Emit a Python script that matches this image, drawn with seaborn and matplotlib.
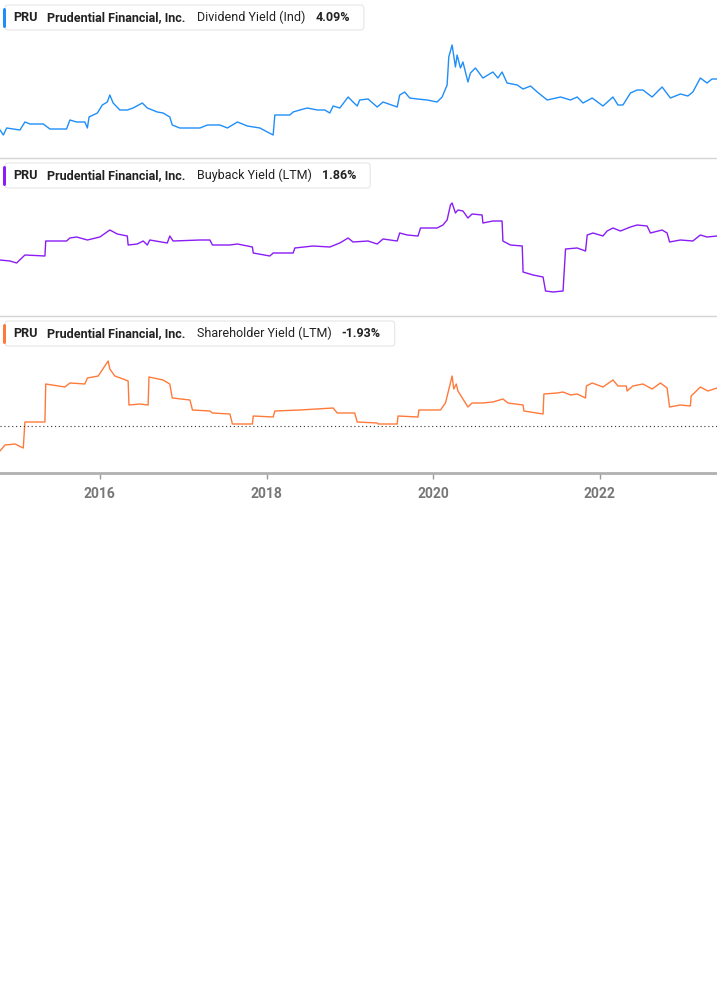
import pandas as pd
import numpy as np
import matplotlib
matplotlib.use("Agg")
import matplotlib.pyplot as plt
from matplotlib.patches import FancyBboxPatch
import seaborn as sns

# values (decimal year, level in %), no y axis shown
div_years = [2014.80, 2014.84, 2014.88, 2015.04, 2015.10, 2015.16, 2015.32, 2015.40, 2015.60, 2015.64,
             2015.72, 2015.82, 2015.85, 2015.87, 2015.97, 2016.03, 2016.09, 2016.12, 2016.16, 2016.24,
             2016.33, 2016.40, 2016.51, 2016.57, 2016.69, 2016.76, 2016.84, 2016.87, 2016.96, 2017.20,
             2017.29, 2017.44, 2017.53, 2017.65, 2017.77, 2017.92, 2018.01, 2018.08, 2018.10, 2018.16,
             2018.28, 2018.32, 2018.40, 2018.49, 2018.61, 2018.70, 2018.76, 2018.80, 2018.88, 2018.98,
             2019.04, 2019.09, 2019.12, 2019.22, 2019.33, 2019.40, 2019.57, 2019.60, 2019.66, 2019.72,
             2019.81, 2019.93, 2020.05, 2020.11, 2020.17, 2020.19, 2020.23, 2020.27, 2020.29, 2020.33,
             2020.36, 2020.42, 2020.45, 2020.51, 2020.60, 2020.72, 2020.78, 2020.83, 2020.89, 2021.01,
             2021.08, 2021.17, 2021.25, 2021.37, 2021.53, 2021.65, 2021.73, 2021.80, 2021.91, 2022.04,
             2022.16, 2022.22, 2022.28, 2022.37, 2022.45, 2022.52, 2022.63, 2022.75, 2022.85, 2022.97,
             2023.06, 2023.12, 2023.21, 2023.29, 2023.35, 2023.41]
div_vals = [2.8, 2.3, 3.0, 2.8, 3.6, 3.4, 3.4, 2.9, 2.9, 3.8,
            3.6, 3.6, 3.0, 4.1, 4.5, 5.3, 5.6, 6.3, 5.5, 4.8,
            4.8, 5.0, 5.5, 5.0, 4.6, 4.5, 4.1, 3.3, 3.0, 3.0,
            3.3, 3.3, 3.0, 3.6, 3.2, 3.0, 2.6, 2.3, 4.3, 4.3,
            4.3, 4.6, 4.8, 5.0, 4.8, 4.8, 4.5, 5.2, 5.0, 6.1,
            5.6, 5.2, 5.8, 5.9, 5.1, 5.6, 5.1, 6.3, 6.6, 6.0,
            5.9, 5.8, 5.6, 6.1, 7.3, 10.1, 11.3, 9.1, 10.3, 9.0,
            9.6, 7.6, 8.5, 9.0, 8.0, 8.6, 8.0, 8.6, 7.5, 7.3,
            6.9, 7.2, 6.6, 5.8, 6.1, 5.8, 6.1, 5.5, 6.0, 5.2,
            6.1, 5.3, 5.3, 6.5, 6.8, 6.8, 6.1, 7.1, 6.0, 6.4,
            6.2, 6.6, 8.0, 7.5, 7.9, 7.9]

buy_years = [2014.80, 2014.92, 2015.00, 2015.10, 2015.34, 2015.35, 2015.60, 2015.64, 2015.72, 2015.85,
             2016.00, 2016.12, 2016.21, 2016.33, 2016.34, 2016.45, 2016.52, 2016.57, 2016.60, 2016.81,
             2016.84, 2016.88, 2017.20, 2017.32, 2017.35, 2017.56, 2017.65, 2017.83, 2017.84, 2018.04,
             2018.08, 2018.32, 2018.34, 2018.56, 2018.76, 2018.88, 2018.98, 2019.04, 2019.22, 2019.33,
             2019.40, 2019.57, 2019.60, 2019.69, 2019.82, 2019.85, 2020.05, 2020.12, 2020.17, 2020.21,
             2020.23, 2020.27, 2020.30, 2020.36, 2020.42, 2020.47, 2020.59, 2020.60, 2020.72, 2020.83,
             2020.84, 2020.93, 2021.07, 2021.08, 2021.20, 2021.32, 2021.35, 2021.44, 2021.56, 2021.59,
             2021.73, 2021.83, 2021.85, 2021.92, 2022.04, 2022.09, 2022.16, 2022.25, 2022.37, 2022.45,
             2022.57, 2022.61, 2022.75, 2022.81, 2022.84, 2022.97, 2023.12, 2023.21, 2023.29, 2023.41]
buy_vals = [5.6, 5.5, 5.3, 6.1, 6.0, 7.5, 7.5, 7.8, 7.9, 7.6,
            7.9, 8.6, 8.2, 8.0, 7.1, 7.2, 7.5, 7.1, 7.6, 7.3,
            8.0, 7.5, 7.6, 7.6, 7.1, 7.1, 7.2, 6.9, 6.3, 6.0,
            6.3, 6.3, 6.8, 7.0, 6.9, 7.3, 7.8, 7.4, 7.5, 7.2,
            7.7, 7.5, 8.3, 8.1, 8.0, 8.8, 8.8, 9.1, 9.6, 11.1,
            11.3, 10.3, 10.6, 10.5, 9.8, 10.2, 10.1, 9.3, 9.5, 9.5,
            7.5, 7.1, 7.0, 4.4, 4.1, 3.9, 2.5, 2.4, 2.5, 6.7,
            6.8, 6.5, 8.1, 8.3, 8.0, 8.5, 8.8, 8.5, 8.9, 9.1,
            9.0, 8.3, 8.6, 8.3, 7.4, 7.6, 7.5, 8.1, 7.9, 8.0]

sh_years = [2014.80, 2014.86, 2014.98, 2015.08, 2015.10, 2015.34, 2015.35, 2015.58, 2015.64, 2015.82,
            2015.85, 2015.98, 2016.06, 2016.10, 2016.12, 2016.18, 2016.28, 2016.34, 2016.35, 2016.48,
            2016.58, 2016.59, 2016.76, 2016.84, 2016.87, 2017.08, 2017.11, 2017.32, 2017.35, 2017.56,
            2017.59, 2017.83, 2017.84, 2018.08, 2018.10, 2018.40, 2018.80, 2018.85, 2019.06, 2019.09,
            2019.33, 2019.34, 2019.57, 2019.58, 2019.82, 2019.83, 2020.09, 2020.15, 2020.18, 2020.23,
            2020.25, 2020.28, 2020.30, 2020.36, 2020.42, 2020.47, 2020.60, 2020.72, 2020.84, 2020.90,
            2021.08, 2021.09, 2021.32, 2021.33, 2021.49, 2021.56, 2021.65, 2021.73, 2021.83, 2021.84,
            2021.91, 2022.04, 2022.16, 2022.22, 2022.32, 2022.33, 2022.40, 2022.52, 2022.63, 2022.73,
            2022.81, 2022.84, 2022.97, 2023.09, 2023.10, 2023.21, 2023.30, 2023.41]
sh_vals = [-2.5, -1.9, -1.8, -2.2, 0.4, 0.4, 4.2, 3.9, 4.3, 4.2,
           4.8, 5.0, 6.0, 6.5, 5.7, 5.0, 4.7, 4.5, 2.1, 2.2,
           2.1, 4.9, 4.6, 4.2, 2.8, 2.6, 1.6, 1.5, 1.3, 1.2,
           0.2, 0.2, 1.0, 0.9, 1.5, 1.6, 1.8, 1.3, 1.3, 0.4,
           0.3, 0.2, 0.2, 1.0, 0.9, 1.6, 1.6, 2.3, 3.3, 5.0,
           3.7, 4.2, 3.5, 2.7, 1.9, 2.3, 2.3, 2.4, 2.7, 2.3,
           2.1, 1.5, 1.2, 3.2, 3.3, 3.4, 3.1, 3.2, 2.8, 4.0,
           4.3, 3.9, 4.6, 4.0, 4.0, 3.5, 4.0, 4.2, 3.7, 4.3,
           3.8, 1.9, 2.1, 2.0, 3.0, 3.9, 3.5, 3.8]

metrics = ["Dividend Yield (Ind)", "Buyback Yield (LTM)", "Shareholder Yield (LTM)"]
latest = ["4.09%", "1.86%", "-1.93%"]
colors = ["#1f8efa", "#8a1cf5", "#ff7a3a"]
tick_years = [2016, 2018, 2020, 2022]


def to_date(y):
    yr = int(y)
    return pd.Timestamp(yr, 1, 1) + pd.Timedelta(days=(y - yr) * 365.25)


sns.set_style("white")
plt.rcParams['font.family'] = ['Roboto', 'DejaVu Sans']

W, H = 717, 1005
fig = plt.figure(figsize=(W / 100, H / 100), dpi=100)


def px_axes(top, bottom):
    return fig.add_axes([0, 1 - bottom / H, 1, (bottom - top) / H])


series = [(div_years, div_vals), (buy_years, buy_vals), (sh_years, sh_vals)]
bands = [(0, 158), (158, 316), (316, 473)]
ylims = [(0, 15.8), (0, 15.8), (-4.7, 11.0)]
xmin, xmax = to_date(2014.80), to_date(2023.41)

axes = []
for i, ((yrs, vals), (top, bot)) in enumerate(zip(series, bands)):
    ax = px_axes(top, bot)
    df = pd.DataFrame({"date": [to_date(y) for y in yrs], "value": vals})
    sns.lineplot(data=df, x="date", y="value", ax=ax, color=colors[i], lw=1.0, estimator=None)
    ax.set_xlim(xmin, xmax)
    ax.set_ylim(*ylims[i])
    ax.set_xlabel("")
    ax.set_ylabel("")
    ax.set_yticks([])
    for s in ["top", "left", "right"]:
        ax.spines[s].set_visible(False)
    ax.spines["bottom"].set_color("#d4d4d4")
    ax.spines["bottom"].set_linewidth(1)
    ax.set_facecolor("none")
    axes.append(ax)

for ax in axes[:2]:
    ax.set_xticks([])

ax3 = axes[2]
ax3.axhline(0, color="#333333", lw=0.8, ls=(0, (1, 2.5)))
ax3.spines["bottom"].set_color("#b0b0b0")
ax3.spines["bottom"].set_linewidth(2)
ax3.set_xticks([to_date(y) for y in tick_years])
ax3.set_xticklabels([str(y) for y in tick_years], fontsize=10, fontweight="bold", color="#777777")
ax3.tick_params(axis="x", direction="out", length=4, width=1, color="#999999", pad=6, bottom=True)

# legend chips
renderer = fig.canvas.get_renderer()


def fx(x):
    return x / W


def fy(y):
    return 1 - y / H


fs = 9.0
for i, (top, bot) in enumerate(bands):
    cy = top + 17.5
    fig.text(fx(13), fy(cy), "PRU", fontsize=fs, fontweight="bold", color="#222222", va="center")
    fig.text(fx(47), fy(cy), "Prudential Financial, Inc.", fontsize=fs, fontweight="bold",
             color="#222222", va="center")
    t3 = fig.text(fx(197), fy(cy), metrics[i], fontsize=fs, color="#222222", va="center")
    ext = t3.get_window_extent(renderer)
    t4 = fig.text(ext.x1 / W + fx(10), fy(cy), latest[i], fontsize=fs, fontweight="bold",
                  color="#222222", va="center")
    right = t4.get_window_extent(renderer).x1 + 14
    box = FancyBboxPatch((fx(5), fy(top + 30)), fx(right - 5), 25 / H,
                         boxstyle="round,pad=0,rounding_size=0.004", transform=fig.transFigure,
                         facecolor="white", edgecolor="#e6e6e6", lw=0.8, zorder=0)
    fig.patches.append(box)
    bar = FancyBboxPatch((fx(3), fy(top + 28)), fx(3), 20 / H,
                         boxstyle="round,pad=0,rounding_size=0.002", transform=fig.transFigure,
                         facecolor=colors[i], edgecolor="none", zorder=1)
    fig.patches.append(bar)

fig.savefig("out.png", dpi=100, facecolor="white")
